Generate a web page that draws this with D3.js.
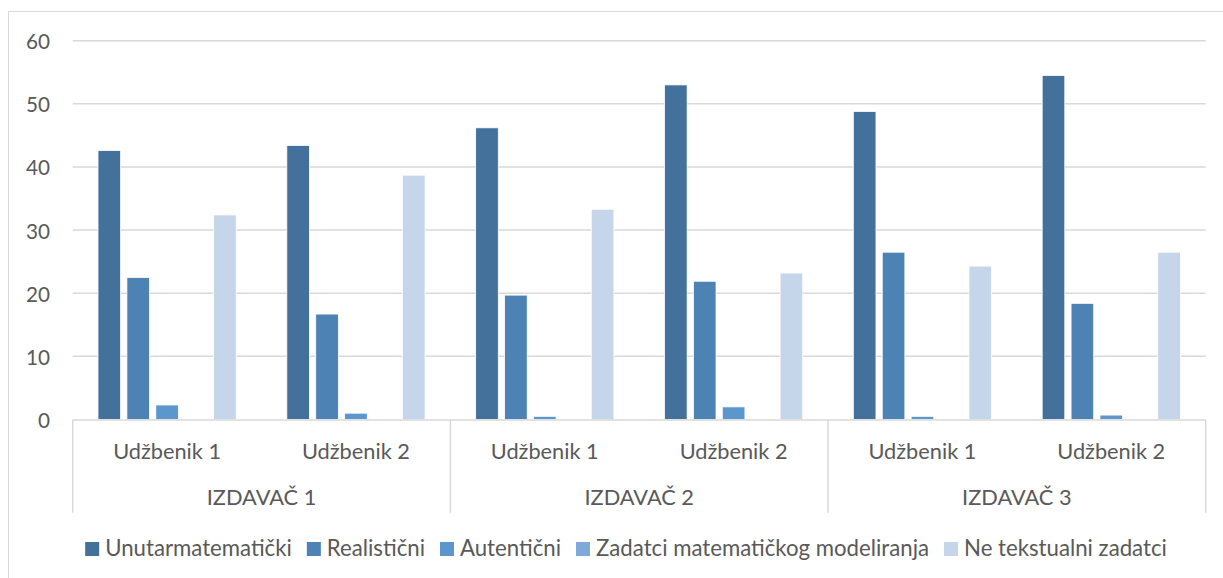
<!DOCTYPE html>
<html>
<head>
<meta charset="utf-8">
<script src="https://cdn.jsdelivr.net/npm/d3@7"></script>
<style>
  body, html { margin: 0; padding: 0; background: white; overflow: hidden; }
  svg text { font-family: Lato, 'Open Sans', sans-serif; fill: #595959; }
</style>
</head>
<body>
<svg id="chart" width="1223" height="578"></svg>
<script>
  // data
  const publishers = ["IZDAVAČ 1", "IZDAVAČ 2", "IZDAVAČ 3"];
  const books = ["Udžbenik 1", "Udžbenik 2"];
  const seriesNames = ["Unutarmatematički", "Realistični", "Autentični", "Zadatci matematičkog modeliranja", "Ne tekstualni zadatci"];
  const seriesColors = ["#43719c", "#4d82b5", "#5b96cd", "#7ea9d9", "#c5d5ea"];
  // one row per series, six values (publisher x book)
  const unutar = [42.6, 43.4, 46.2, 53.0, 48.8, 54.5];
  const realisticni = [22.5, 16.7, 19.7, 21.9, 26.5, 18.4];
  const autenticni = [2.3, 1.0, 0.5, 2.0, 0.5, 0.7];
  const modeliranje = [0, 0, 0, 0, 0, 0];
  const netekst = [32.4, 38.7, 33.3, 23.2, 24.3, 26.5];
  const yTicks = [0, 10, 20, 30, 40, 50, 60];

  const allSeries = [unutar, realisticni, autenticni, modeliranje, netekst];

  const svg = d3.select('#chart');
  const plotLeft = 72.7, plotRight = 1205.7, plotTop = 40.7, plotBottom = 419.5;

  // the original font is wider than Lato, so size the text to match "Udžbenik 1" ~108px
  const probe = svg.append('text').style('font-size', '24px').text('Udžbenik 1');
  const fs = 24 * 108 / probe.node().getComputedTextLength();
  probe.remove();
  const fontSize = fs + 'px';

  // outer chart border
  svg.append('rect')
    .attr('x', 8.5).attr('y', 11.5)
    .attr('width', 1230).attr('height', 580)
    .attr('fill', 'none').attr('stroke', '#d9d9d9').attr('stroke-width', 1);

  const cats = [];
  publishers.forEach(p => books.forEach(b => cats.push(p + '|' + b)));

  const x = d3.scaleBand().domain(cats).range([plotLeft, plotRight]).paddingInner(0).paddingOuter(0);
  const y = d3.scaleLinear().domain([0, 60]).range([plotBottom, plotTop]);

  // inner band for series inside each category
  const inner = d3.scaleBand().domain(d3.range(seriesNames.length))
    .range([25.3, x.bandwidth() - 25.3]).paddingInner(0.217).paddingOuter(0);

  // grid lines
  svg.append('g')
    .selectAll('line')
    .data(yTicks.filter(d => d > 0))
    .join('line')
    .attr('x1', plotLeft).attr('x2', plotRight)
    .attr('y1', d => y(d)).attr('y2', d => y(d))
    .attr('stroke', '#d9d9d9').attr('stroke-width', 1.5);

  // y tick labels
  svg.append('g')
    .selectAll('text')
    .data(yTicks)
    .join('text')
    .attr('x', 50)
    .attr('y', d => y(d) + 8.5)
    .attr('text-anchor', 'end')
    .style('font-size', (fs * 0.95) + 'px')
    .text(d => d);

  // bars
  const barData = [];
  allSeries.forEach((vals, s) => vals.forEach((v, i) => barData.push({ s, cat: cats[i], v })));

  svg.append('g')
    .selectAll('rect')
    .data(barData.filter(d => d.v > 0))
    .join('rect')
    .attr('x', d => x(d.cat) + inner(d.s))
    .attr('width', inner.bandwidth())
    .attr('y', d => y(d.v))
    .attr('height', d => y(0) - y(d.v))
    .attr('fill', d => seriesColors[d.s])
    .attr('stroke', 'white').attr('stroke-width', 0.8);

  // category axis
  const axisG = svg.append('g');
  axisG.append('line')
    .attr('x1', plotLeft).attr('x2', plotRight)
    .attr('y1', plotBottom + 0.5).attr('y2', plotBottom + 0.5)
    .attr('stroke', '#d9d9d9').attr('stroke-width', 1.5);

  const groupW = x.bandwidth() * books.length;
  const dividers = d3.range(publishers.length + 1).map(i => plotLeft + i * groupW);
  axisG.selectAll('.div')
    .data(dividers)
    .join('line')
    .attr('x1', d => d).attr('x2', d => d)
    .attr('y1', plotBottom).attr('y2', 512.7)
    .attr('stroke', '#d9d9d9').attr('stroke-width', 1.5);

  axisG.selectAll('.book')
    .data(cats)
    .join('text')
    .attr('x', d => x(d) + x.bandwidth() / 2)
    .attr('y', 459)
    .attr('text-anchor', 'middle')
    .style('font-size', fontSize)
    .text(d => d.split('|')[1]);

  axisG.selectAll('.pub')
    .data(publishers)
    .join('text')
    .attr('x', (d, i) => plotLeft + i * groupW + groupW / 2)
    .attr('y', 505)
    .attr('text-anchor', 'middle')
    .style('font-size', fontSize)
    .text(d => d);

  // legend
  const legend = svg.append('g');
  const items = legend.selectAll('g')
    .data(seriesNames)
    .join('g');
  items.append('rect')
    .attr('width', 14).attr('height', 14)
    .attr('y', 542)
    .attr('fill', (d, i) => seriesColors[i]);
  items.append('text')
    .attr('y', 556)
    .attr('x', 20)
    .style('font-size', (fs * 1.02) + 'px')
    .text(d => d);

  let widths = [];
  items.select('text').each(function () { widths.push(this.getComputedTextLength()); });
  const gap = 15;
  const total = d3.sum(widths.map(w => 20 + w)) + gap * (widths.length - 1);
  let cx = 626 - total / 2;
  items.attr('transform', (d, i) => {
    const t = `translate(${cx},0)`;
    cx += 20 + widths[i] + gap;
    return t;
  });
</script>
</body>
</html>
